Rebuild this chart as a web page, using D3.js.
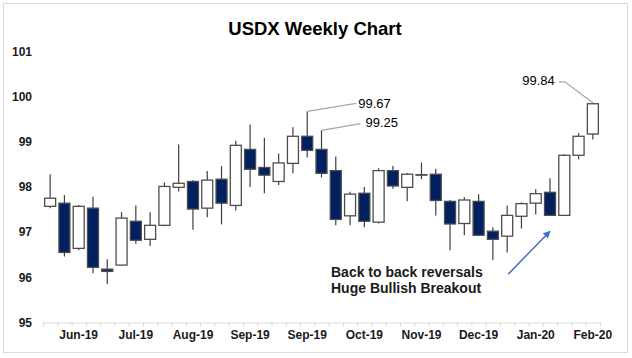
<!DOCTYPE html>
<html><head><meta charset="utf-8">
<script src="https://cdn.jsdelivr.net/npm/d3@7"></script>
<style>
html,body{margin:0;padding:0;background:#fff;}
svg{display:block;font-family:"Liberation Sans",Arial,sans-serif;}
</style></head>
<body><svg id="chart" width="632" height="358"></svg>
<script>
// ---- data ----
const weeks = ["May-19","May-19","Jun-19","Jun-19","Jun-19","Jun-19","Jul-19","Jul-19","Jul-19","Jul-19",
               "Aug-19","Aug-19","Aug-19","Aug-19","Sep-19","Sep-19","Sep-19","Sep-19","Sep-19","Sep-19",
               "Oct-19","Oct-19","Oct-19","Oct-19","Nov-19","Nov-19","Nov-19","Nov-19","Dec-19","Dec-19",
               "Dec-19","Dec-19","Jan-20","Jan-20","Jan-20","Jan-20","Feb-20","Feb-20","Feb-20"];
const tickLabels = ["Jun-19","Jul-19","Aug-19","Sep-19","Sep-19","Oct-19","Nov-19","Dec-19","Jan-20","Feb-20"];
const tickIndex = [2,6,10,14,18,22,26,30,34,38];
const openV  = [97.57,97.64,96.64,97.53,96.18,96.27,97.24,96.84,97.15,97.99,98.12,97.53,98.17,97.59,98.83,98.43,98.12,98.52,99.12,98.83,
                98.36,97.36,97.86,97.22,98.36,97.99,98.27,98.28,97.68,97.19,97.68,97.02,96.91,97.35,97.64,97.88,97.37,98.70,99.17];
const highV  = [98.28,97.82,97.60,97.78,96.40,97.44,97.59,97.44,98.10,98.94,98.15,98.35,98.46,99.02,99.38,99.09,98.74,99.32,99.67,99.25,
                98.67,97.89,98.00,98.41,98.46,98.31,98.54,98.40,97.71,97.77,97.84,97.11,97.59,97.66,97.95,98.19,98.72,99.19,99.86];
const lowV   = [97.53,96.46,96.60,96.09,95.85,96.26,96.74,96.69,97.13,97.90,97.05,97.33,97.17,97.48,98.00,97.86,98.04,98.30,98.65,98.21,
                97.15,97.15,97.11,97.19,97.96,97.68,98.17,97.37,96.60,96.93,96.92,96.38,96.55,97.08,97.39,97.36,97.36,98.61,99.05];
const closeV = [97.75,96.55,97.57,96.22,96.13,97.31,96.82,97.15,98.01,98.08,97.51,98.15,97.64,98.92,98.39,98.26,98.53,99.12,98.81,98.30,
                97.28,97.84,97.24,98.36,98.02,98.28,98.26,97.70,97.18,97.71,96.93,96.84,97.37,97.63,97.85,97.37,98.70,99.12,99.84];
const yTicks = [95,96,97,98,99,100,101];
const calloutIdx = [18,19,38];
const calloutVal = [99.67,99.25,99.84];
const noteLines = ["Back to back reversals","Huge Bullish Breakout"];
const arrowFrom = [32, 96.07], arrowTo = [35, 97.02];

// ---- scales ----
const svg = d3.select("#chart");
const n = weeks.length;
const x = d3.scaleBand().domain(d3.range(n)).range([43,600]).padding(0);
const xLin = d3.scaleLinear().domain([0,n]).range([43,600]);
const y = d3.scaleLinear().domain([95,101]).range([322.5,51.3]);
const cx = i => x(i) + x.bandwidth()/2;
const bw = x.bandwidth()*0.77;

// border
svg.append("rect").attr("x",3.5).attr("y",3.5).attr("width",624).attr("height",349)
  .attr("fill","#fff").attr("stroke","#d9d9d9").attr("stroke-width",1);

// title
svg.append("text").attr("x",315).attr("y",35).attr("text-anchor","middle")
  .attr("font-size",18.5).attr("font-weight","bold").attr("fill","#000").text("USDX Weekly Chart");

// y axis
const ya = svg.append("g").attr("transform","translate(34,0)")
  .call(d3.axisLeft(y).tickValues(yTicks).tickSize(0).tickPadding(2).tickFormat(d3.format("d")));
ya.select(".domain").remove();
ya.selectAll("text").attr("font-size",12).attr("font-weight","bold").attr("fill","#1a1a1a")
  .attr("font-family","Liberation Sans, Arial, sans-serif");

// x axis tick marks
const xt = svg.append("g").attr("transform","translate(0,322.5)")
  .call(d3.axisBottom(xLin).tickValues(d3.range(n+1)).tickSize(4).tickFormat(""));
xt.select(".domain").attr("stroke","#d9d9d9");
xt.selectAll(".tick line").attr("stroke","#d9d9d9");
// x labels
const xl = svg.append("g").attr("transform","translate(0,322.5)")
  .call(d3.axisBottom(x).tickValues(tickIndex).tickSize(0).tickPadding(8)
     .tickFormat(d => tickLabels[tickIndex.indexOf(d)]));
xl.select(".domain").remove();
xl.selectAll("text").attr("font-size",12).attr("font-weight","bold").attr("fill","#1a1a1a")
  .attr("font-family","Liberation Sans, Arial, sans-serif");

// candles
const data = d3.range(n).map(i => ({i, o:openV[i], h:highV[i], l:lowV[i], c:closeV[i]}));
const g = svg.append("g");
g.selectAll("line.wick").data(data).join("line").attr("class","wick")
  .attr("x1",d=>cx(d.i)).attr("x2",d=>cx(d.i)).attr("y1",d=>y(d.h)).attr("y2",d=>y(d.l))
  .attr("stroke","#3f3f3f").attr("stroke-width",1.2);
g.selectAll("rect.body").data(data).join("rect").attr("class","body")
  .attr("x",d=>cx(d.i)-bw/2).attr("width",bw)
  .attr("y",d=>y(Math.max(d.o,d.c))).attr("height",d=>Math.abs(y(d.o)-y(d.c)))
  .attr("fill",d=>d.c<d.o?"#002060":"#ffffff").attr("stroke","#4d4d4d").attr("stroke-width",1.3);

// callouts
const co = svg.append("g");
const leaderOffsets = [[[49,-8]],[[39,-6.7]],[[-28,-21],[-34,-21]]];
const labelOffsets = [[51,-3.2,"start"],[44,-3.4,"start"],[-38,-17.5,"end"]];
calloutIdx.forEach((idx,k) => {
  const px = cx(idx), py = y(highV[idx]);
  const pts = [[px,py]].concat(leaderOffsets[k].map(o=>[px+o[0],py+o[1]]));
  co.append("path").attr("d",d3.line()(pts)).attr("fill","none").attr("stroke","#a6a6a6").attr("stroke-width",1.2);
  co.append("text").attr("x",px+labelOffsets[k][0]).attr("y",py+labelOffsets[k][1])
    .attr("text-anchor",labelOffsets[k][2]).attr("font-size",13).attr("fill","#000").text(d3.format(".2f")(calloutVal[k]));
});

// note text
const note = svg.append("text").attr("font-size",14).attr("font-weight","bold").attr("fill","#1a1a1a");
noteLines.forEach((t,k)=>note.append("tspan").attr("x",331).attr("y",276.7+k*16).text(t));

// arrow
const defs = svg.append("defs");
defs.append("marker").attr("id","ah").attr("viewBox","0 0 10 10").attr("refX",9).attr("refY",5)
  .attr("markerWidth",5).attr("markerHeight",5).attr("orient","auto")
  .append("path").attr("d","M0,0 L10,5 L0,10 z").attr("fill","#4472c4");
svg.append("line").attr("x1",cx(arrowFrom[0])+1).attr("y1",y(arrowFrom[1]))
  .attr("x2",cx(arrowTo[0])).attr("y2",y(arrowTo[1]))
  .attr("stroke","#4472c4").attr("stroke-width",1.5).attr("marker-end","url(#ah)");
</script></body></html>
